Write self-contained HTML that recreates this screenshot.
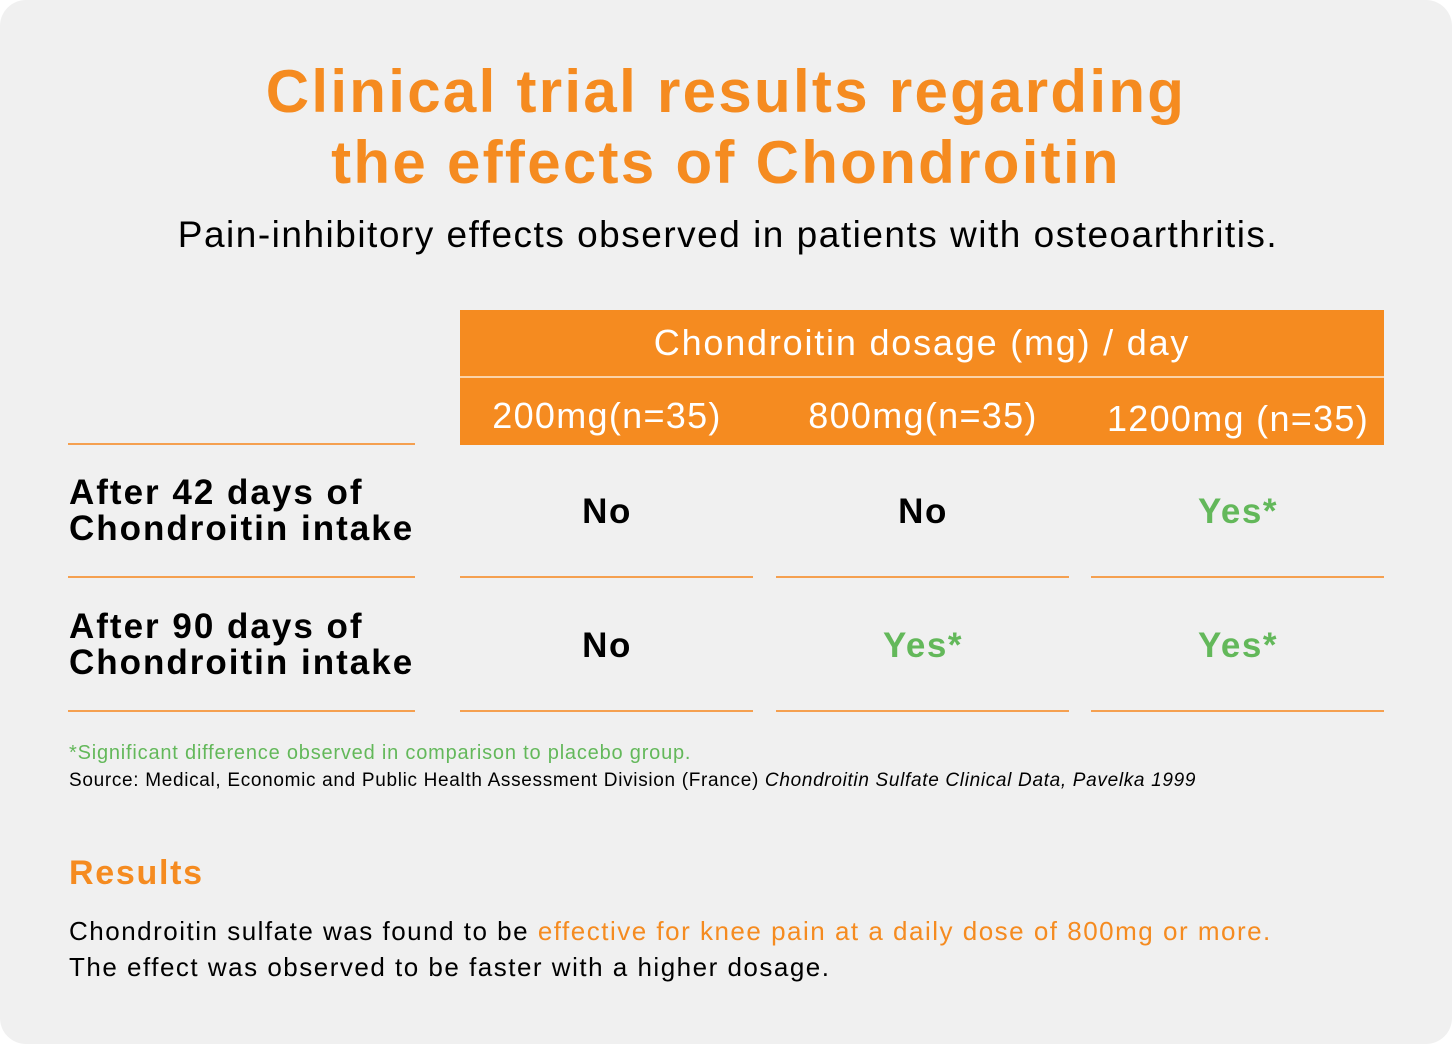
<!DOCTYPE html>
<html><head><meta charset="utf-8"><style>
*{margin:0;padding:0;box-sizing:border-box}
body{width:1452px;height:1044px;background:#fff;font-family:"Liberation Sans",sans-serif;position:relative;overflow:hidden}
#card{position:absolute;left:0;top:0;width:1452px;height:1044px;background:#f0f0f0;border-radius:26px}
.t{position:absolute;white-space:nowrap;line-height:1}
.c{text-align:center}
.ln{position:absolute;height:2px;background:#f5a050}
.o{color:#f58b20}.g{color:#63b85a}
.h{font-size:36px;color:#fff;letter-spacing:1.3px}
.v{font-size:35px;font-weight:bold;letter-spacing:1.5px}
</style></head><body>
<div id="card">
<div class="t c o" style="left:0;width:1452px;top:56px;font-size:60px;font-weight:bold;line-height:71px;letter-spacing:2.3px">Clinical trial results regarding<br>the effects of Chondroitin</div>
<div class="t c" style="left:0;width:1456px;top:216px;font-size:37px;letter-spacing:1.5px">Pain-inhibitory effects observed in patients with osteoarthritis.</div>

<div style="position:absolute;left:460px;top:310px;width:924px;height:135px;background:#f58b20">
 <div style="position:absolute;left:0;top:66px;width:924px;height:2px;background:#fbd3a8"></div>
 <div class="t c h" style="left:0;width:924px;top:15px;letter-spacing:1.8px">Chondroitin dosage (mg) / day</div>
 <div class="t c h" style="left:0;width:294px;top:88px">200mg(n=35)</div>
 <div class="t c h" style="left:316px;width:294px;top:88px">800mg(n=35)</div>
 <div class="t c h" style="left:631px;width:294px;top:91px">1200mg (n=35)</div>
</div>

<div class="ln" style="left:68px;top:443px;width:347px"></div>
<div class="ln" style="left:68px;top:576px;width:347px"></div>
<div class="ln" style="left:68px;top:710px;width:347px"></div>
<div class="ln" style="left:460px;top:576px;width:293px"></div>
<div class="ln" style="left:776px;top:576px;width:293px"></div>
<div class="ln" style="left:1091px;top:576px;width:293px"></div>
<div class="ln" style="left:460px;top:710px;width:293px"></div>
<div class="ln" style="left:776px;top:710px;width:293px"></div>
<div class="ln" style="left:1091px;top:710px;width:293px"></div>

<div class="t" style="left:69px;top:475px;font-size:35px;font-weight:bold;line-height:36px;letter-spacing:2px">After 42 days of<br>Chondroitin intake</div>
<div class="t" style="left:69px;top:609px;font-size:35px;font-weight:bold;line-height:36px;letter-spacing:2px">After 90 days of<br>Chondroitin intake</div>

<div class="t c v" style="left:460px;width:294px;top:494px">No</div>
<div class="t c v" style="left:776px;width:294px;top:494px">No</div>
<div class="t c v g" style="left:1091px;width:294px;top:494px">Yes*</div>
<div class="t c v" style="left:460px;width:294px;top:628px">No</div>
<div class="t c v g" style="left:776px;width:294px;top:628px">Yes*</div>
<div class="t c v g" style="left:1091px;width:294px;top:628px">Yes*</div>

<div class="t g" style="left:69px;top:743px;font-size:20px;letter-spacing:0.8px">*Significant difference observed in comparison to placebo group.</div>
<div class="t" style="left:69px;top:771px;font-size:19px;letter-spacing:0.68px">Source: Medical, Economic and Public Health Assessment Division (France) <i>Chondroitin Sulfate Clinical Data, Pavelka 1999</i></div>

<div class="t o" style="left:69px;top:856px;font-size:34px;font-weight:bold;letter-spacing:1.7px">Results</div>
<div class="t" style="left:69px;top:913px;font-size:26px;line-height:36px;letter-spacing:1.5px">Chondroitin sulfate was found to be <span class="o">effective for knee pain at a daily dose of 800mg or more.</span><br>The effect was observed to be faster with a higher dosage.</div>
</div>
</body></html>
